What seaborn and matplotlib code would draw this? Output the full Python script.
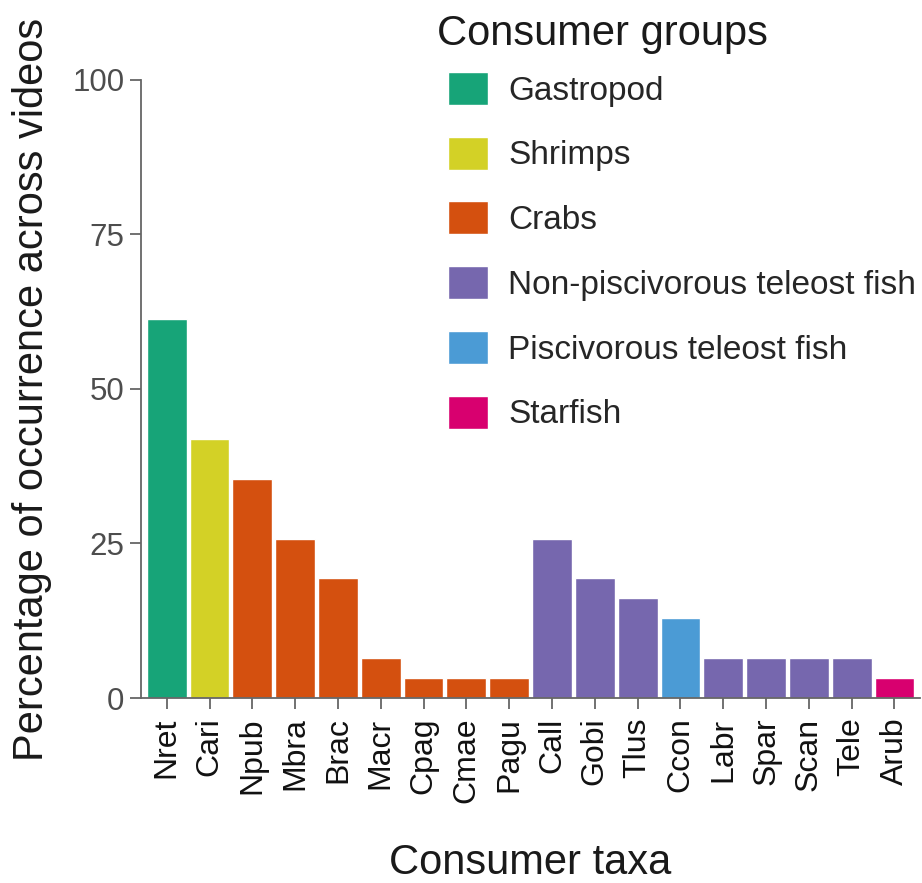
import matplotlib
matplotlib.use('Agg')
import matplotlib.pyplot as plt
import pandas as pd
import seaborn as sns

# Data
taxa = ['Nret', 'Cari', 'Npub', 'Mbra', 'Brac', 'Macr', 'Cpag', 'Cmae', 'Pagu',
        'Call', 'Gobi', 'Tlus', 'Ccon', 'Labr', 'Spar', 'Scan', 'Tele', 'Arub']
occurrence = [61.3, 41.9, 35.5, 25.8, 19.4, 6.5, 3.2, 3.2, 3.2,
              25.8, 19.4, 16.1, 12.9, 6.5, 6.5, 6.5, 6.5, 3.2]
groups = ['Gastropod', 'Shrimps', 'Crabs', 'Crabs', 'Crabs', 'Crabs', 'Crabs', 'Crabs', 'Crabs',
          'Non-piscivorous teleost fish', 'Non-piscivorous teleost fish',
          'Non-piscivorous teleost fish', 'Piscivorous teleost fish',
          'Non-piscivorous teleost fish', 'Non-piscivorous teleost fish',
          'Non-piscivorous teleost fish', 'Non-piscivorous teleost fish', 'Starfish']
group_order = ['Gastropod', 'Shrimps', 'Crabs', 'Non-piscivorous teleost fish',
               'Piscivorous teleost fish', 'Starfish']
group_colors = ['#17a478', '#d3d126', '#d4500f', '#7667ae', '#4b9bd5', '#d8006f']

df = pd.DataFrame({'taxa': taxa, 'value': occurrence, 'group': groups})

sns.set_style('white')
plt.rcParams['font.family'] = ['Liberation Sans', 'DejaVu Sans']

fig = plt.figure(figsize=(9.22, 8.83), dpi=100)
ax = fig.add_axes([0.153, 0.2095, 0.845, 0.7])

sns.barplot(data=df, x='taxa', y='value', hue='group', hue_order=group_order,
            palette=dict(zip(group_order, group_colors)), order=taxa,
            dodge=False, width=0.93, saturation=1, ax=ax, legend=True)

ax.set_xlim(-0.6, 17.6)
ax.set_ylim(0, 100)
ax.set_yticks([0, 25, 50, 75, 100])
ax.set_xlabel('Consumer taxa', fontsize=30, color='#1a1a1a')
ax.set_ylabel('Percentage of occurrence across videos', fontsize=30, color='#1a1a1a')
ax.xaxis.set_label_coords(0.5, -0.234)
ax.yaxis.set_label_coords(-0.114, 0.5)

for s in ['top', 'right']:
    ax.spines[s].set_visible(False)
for s in ['left', 'bottom']:
    ax.spines[s].set_color('#666666')
    ax.spines[s].set_linewidth(1.3)
ax.tick_params(axis='y', length=8, width=1.3, color='#666666', labelsize=22.5,
               labelcolor='#4d4d4d', left=True, pad=4)
ax.tick_params(axis='x', length=8, width=1.3, color='#666666', labelsize=23,
               labelcolor='#111111', bottom=True, rotation=90, pad=6)

# legend: square swatches, title drawn separately to match its spacing
handles, labels = ax.get_legend_handles_labels()
ax.get_legend().remove()
fig.legend(handles, labels, loc='upper left',
           bbox_to_anchor=(448 / 922, 1 - 72 / 883), frameon=False, fontsize=24,
           handlelength=1.2, handleheight=1.14,
           labelspacing=0.9, handletextpad=0.6,
           borderaxespad=0, borderpad=0)
fig.text(437 / 922, 1 - 45 / 883, 'Consumer groups', fontsize=30,
         color='#1a1a1a', va='baseline', ha='left')

fig.savefig('out.png', dpi=100)
